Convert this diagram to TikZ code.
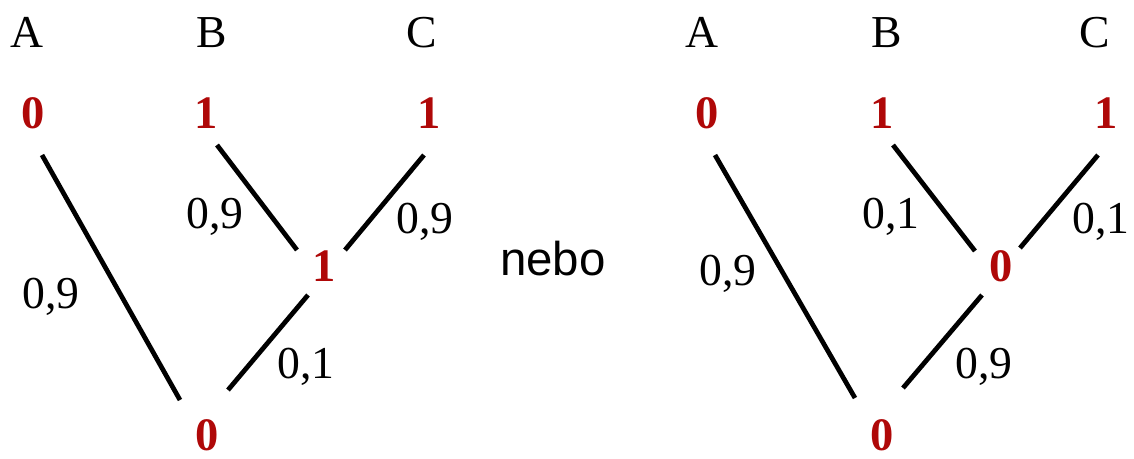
\documentclass[tikz,border=0pt]{standalone}
\usepackage{fontspec}
\setmainfont{Liberation Serif}
\newfontfamily\arialfont{Liberation Sans}
\definecolor{digitred}{RGB}{175,8,8}
\begin{document}
\begin{tikzpicture}[x=0.02cm,y=-0.02cm,
  lbl/.style={anchor=base,inner sep=0pt,font=\fontsize{26}{30}\selectfont},
  bit/.style={anchor=base,inner sep=0pt,text=digitred,font=\fontsize{26.5}{30}\selectfont\bfseries},
  edge/.style={line width=2.7pt,black}]
\useasboundingbox (0,0) rectangle (1134,458);
% ---------- left tree ----------
\node[lbl] (lA) at (27,47) {A};
\node[lbl] (lB) at (212,47) {B};
\node[lbl] (lC) at (422,47) {C};
\node[bit] (la) at (33,128) {0};
\node[bit] (lb) at (206,128) {1};
\node[bit] (lc) at (429,128) {1};
\node[bit] (lm) at (324,281) {1};
\node[bit] (lr) at (207,450) {0};
\coordinate (la1) at (42,155);  \coordinate (la2) at (180,400);
\coordinate (lb1) at (217,145); \coordinate (lb2) at (297,250);
\coordinate (lc1) at (424,155); \coordinate (lc2) at (345,250);
\coordinate (lm1) at (308,295); \coordinate (lm2) at (228,390);
\draw[edge] (la1) -- (la2);
\draw[edge] (lb1) -- (lb2);
\draw[edge] (lc1) -- (lc2);
\draw[edge] (lm1) -- (lm2);
\node[lbl] (lpa) at (51,308) {0,9};
\node[lbl] (lpb) at (215,228) {0,9};
\node[lbl] (lpc) at (425,233) {0,9};
\node[lbl] (lpm) at (306,378) {0,1};
% ---------- middle ----------
\node[anchor=base,inner sep=0pt,font=\arialfont\fontsize{27}{32}\selectfont] (nebo) at (553,275) {nebo};
% ---------- right tree ----------
\node[lbl] (rA) at (702,47) {A};
\node[lbl] (rB) at (887,47) {B};
\node[lbl] (rC) at (1095,47) {C};
\node[bit] (ra) at (707,128) {0};
\node[bit] (rb) at (882,128) {1};
\node[bit] (rc) at (1106,128) {1};
\node[bit] (rm) at (1001,281) {0};
\node[bit] (rr) at (882,450) {0};
\coordinate (ra1) at (715,155);  \coordinate (ra2) at (855,398);
\coordinate (rb1) at (893,145);  \coordinate (rb2) at (975,251);
\coordinate (rc1) at (1098,155); \coordinate (rc2) at (1020,248);
\coordinate (rm1) at (982,295);  \coordinate (rm2) at (903,388);
\draw[edge] (ra1) -- (ra2);
\draw[edge] (rb1) -- (rb2);
\draw[edge] (rc1) -- (rc2);
\draw[edge] (rm1) -- (rm2);
\node[lbl] (rpa) at (728,285) {0,9};
\node[lbl] (rpb) at (891,228) {0,1};
\node[lbl] (rpc) at (1101,233) {0,1};
\node[lbl] (rpm) at (984,378) {0,9};
\end{tikzpicture}
\end{document}
